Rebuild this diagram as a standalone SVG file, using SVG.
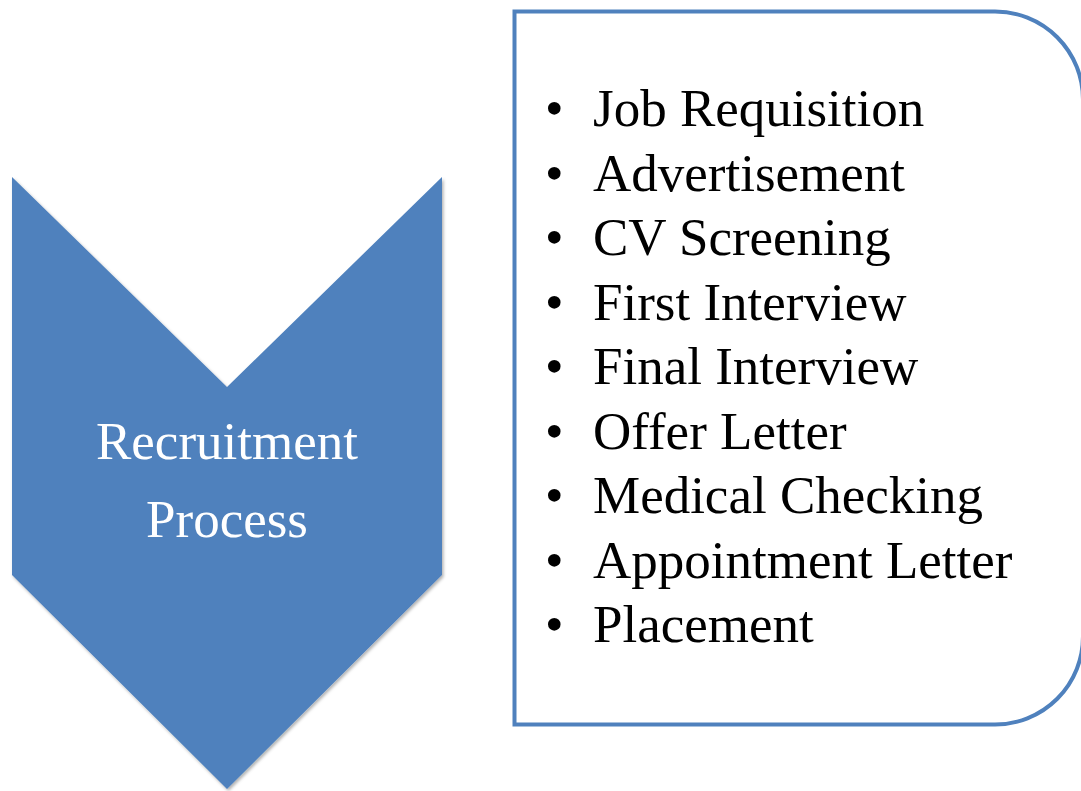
<svg xmlns="http://www.w3.org/2000/svg" width="1081" height="791" viewBox="0 0 1081 791">
<style>
.lbl{font-family:"Liberation Serif","Times New Roman",serif;font-size:53px;fill:#ffffff;text-anchor:middle}
.item{font-family:"Liberation Serif","Times New Roman",serif;font-size:53px;fill:#000000}
.bul{font-family:"Liberation Serif","Times New Roman",serif;font-size:53px;fill:#000000}
</style>
<defs>
<filter id="sh" x="-5%" y="-5%" width="110%" height="110%">
<feDropShadow dx="1.5" dy="2" stdDeviation="1.5" flood-color="#000" flood-opacity="0.3"/>
</filter>
</defs>
<rect width="1081" height="791" fill="#ffffff"/>
<g id="chevron">
<path d="M12,177 L227,387 L442,177 L442,575 L227,789 L12,575 Z" fill="#4F81BD" filter="url(#sh)"/>
<text class="lbl" x="227" y="459">Recruitment</text>
<text class="lbl" x="227" y="537">Process</text>
</g>
<g id="list-box">
<path d="M514.5,11.5 L995,11.5 A88,88 0 0 1 1083,99.5 L1083,636.5 A88,88 0 0 1 995,724.5 L514.5,724.5 Z" fill="#ffffff" stroke="#4F81BD" stroke-width="4"/>
<g class="bul">
<text x="545" y="126">•</text>
<text x="545" y="190.5">•</text>
<text x="545" y="255">•</text>
<text x="545" y="319.5">•</text>
<text x="545" y="384">•</text>
<text x="545" y="448.5">•</text>
<text x="545" y="513">•</text>
<text x="545" y="577.5">•</text>
<text x="545" y="642">•</text>
</g>
<text class="item" x="593" y="126">Job Requisition</text>
<text class="item" x="593" y="190.5">Advertisement</text>
<text class="item" x="593" y="255">CV Screening</text>
<text class="item" x="593" y="319.5">First Interview</text>
<text class="item" x="593" y="384">Final Interview</text>
<text class="item" x="593" y="448.5">Offer Letter</text>
<text class="item" x="593" y="513">Medical Checking</text>
<text class="item" x="593" y="577.5">Appointment Letter</text>
<text class="item" x="593" y="642">Placement</text>
</g>
<g id="connectors"></g>
</svg>
